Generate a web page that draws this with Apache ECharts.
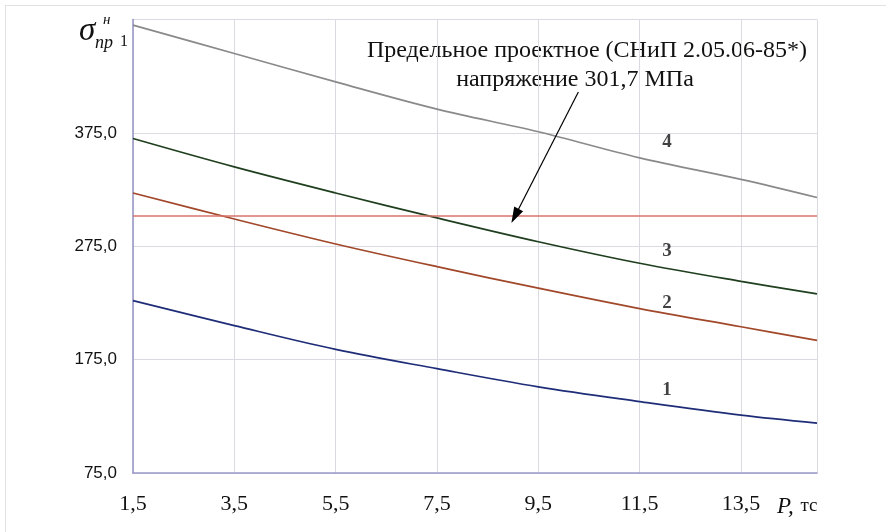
<!DOCTYPE html>
<html>
<head>
<meta charset="utf-8">
<script src="https://cdn.jsdelivr.net/npm/echarts@6/dist/echarts.min.js"></script>
<style>
html,body{margin:0;padding:0;background:#fff;}
#chart{width:886px;height:532px;}
</style>
</head>
<body>
<div id="chart"></div>
<script>
// ---- data ----
const P = [1.5, 3.5, 5.5, 7.5, 9.5, 11.5, 13.5, 15];
const curve1 = [227, 205, 184, 167, 151, 138, 126, 119];
const curve2 = [322, 299, 277, 257, 238, 220, 204, 192];
const curve3 = [370, 345, 322, 300, 279, 260, 244, 233];
const curve4 = [470, 445, 420, 396, 376, 353, 334, 318];
const LIMIT = 301.7;
const curveNames = ['1', '2', '3', '4'];
const labelX = [12.04, 12.04, 12.04, 12.04];
const labelY = [148, 225, 271, 366.5];
const arrowFrom = [10.29, 411];
const arrowTo = [9.04, LIMIT];
const annotation1 = 'Предельное проектное (СНиП 2.05.06-85*)';
const annotation2 = 'напряжение 301,7 МПа';
const xMin = 1.5, xMax = 15, xStep = 2;
const yMin = 75, yMax = 475, yStep = 100;

const fmt = v => v.toFixed(1).replace('.', ',');
const pairs = arr => P.map((x, i) => [x, arr[i]]);

const chart = echarts.init(document.getElementById('chart'), null, {renderer: 'canvas'});
const colors = ['#1f2d78', '#a2482a', '#1f3f1f', '#8a8a8a'];
const curves = [curve1, curve2, curve3, curve4];

const series = curves.map((c, i) => ({
  type: 'line', name: curveNames[i], data: pairs(c), smooth: 0.35,
  showSymbol: false, symbol: 'none',
  lineStyle: {color: colors[i], width: 1.7}, z: 3
}));
series.push({
  type: 'line', name: 'limit', data: [[xMin, LIMIT], [xMax, LIMIT]],
  showSymbol: false, symbol: 'none',
  lineStyle: {color: '#d9736a', width: 1.4}, z: 3,
  markLine: {
    silent: true, symbol: ['none', 'triangle'], symbolSize: [10, 16],
    label: {show: false},
    lineStyle: {color: '#000', width: 1.2, type: 'solid'},
    data: [[{coord: arrowFrom}, {coord: arrowTo}]]
  }
});
series.push({
  type: 'scatter', name: 'labels', symbolSize: 0,
  data: labelX.map((x, i) => ({value: [x, labelY[i]], name: curveNames[i]})),
  label: {show: true, position: 'inside', formatter: p => p.name,
    fontFamily: 'Liberation Serif', fontWeight: 'bold', fontSize: 19, color: '#111'},
  z: 5
});

chart.setOption({
  animation: false,
  grid: {left: 133, right: 69, top: 19.5, bottom: 59, containLabel: false},
  xAxis: {
    type: 'value', min: xMin, max: xMax, interval: xStep,
    axisLine: {show: true, lineStyle: {color: '#9a98c8', width: 1.6}},
    axisTick: {show: false},
    splitLine: {show: true, lineStyle: {color: '#dadae2', width: 1}},
    axisLabel: {
      formatter: v => fmt(v), showMaxLabel: false, margin: 20,
      fontFamily: 'Liberation Serif', fontSize: 22, color: '#111'
    },
    name: '{i|P,}  {n|тс}', nameLocation: 'end', nameGap: -40,
    nameTextStyle: {
      verticalAlign: 'top', padding: [22, 0, 0, 0],
      rich: {
        i: {fontFamily: 'Liberation Serif', fontStyle: 'italic', fontSize: 23, color: '#111'},
        n: {fontFamily: 'Liberation Serif', fontSize: 19, color: '#111'}
      }
    }
  },
  yAxis: {
    type: 'value', min: yMin, max: yMax, interval: yStep,
    axisLine: {show: true, lineStyle: {color: '#9a98c8', width: 1.6}},
    axisTick: {show: false},
    splitLine: {show: true, lineStyle: {color: '#dadae2', width: 1}},
    axisLabel: {
      formatter: v => fmt(v), showMaxLabel: false, margin: 16,
      fontFamily: 'Liberation Sans', fontSize: 17, color: '#111'
    }
  },
  graphic: [
    {type: 'line', shape: {x1: 5, y1: 5.5, x2: 886, y2: 5.5}, style: {stroke: '#e2e2e2', lineWidth: 1}},
    {type: 'line', shape: {x1: 5.5, y1: 5, x2: 5.5, y2: 532}, style: {stroke: '#e2e2e2', lineWidth: 1}},
    {type: 'text', left: 79, top: 15, style: {text: 'σ', font: 'italic 33px "Liberation Serif"', fill: '#111'}},
    {type: 'text', left: 103, top: 13, style: {text: 'н', font: 'italic 15px "Liberation Serif"', fill: '#111'}},
    {type: 'text', left: 95, top: 34, style: {text: 'пр', font: 'italic 18px "Liberation Serif"', fill: '#111'}},
    {type: 'text', left: 120, top: 34, style: {text: '1', font: '16px "Liberation Serif"', fill: '#111'}},
    {type: 'text', x: 587, y: 63, style: {text: annotation1, font: '24px "Liberation Serif"', fill: '#111', textAlign: 'center', textVerticalAlign: 'bottom'}},
    {type: 'text', x: 575, y: 92, style: {text: annotation2, font: '24px "Liberation Serif"', fill: '#111', textAlign: 'center', textVerticalAlign: 'bottom'}}
  ],
  series: series
});
</script>
</body>
</html>
